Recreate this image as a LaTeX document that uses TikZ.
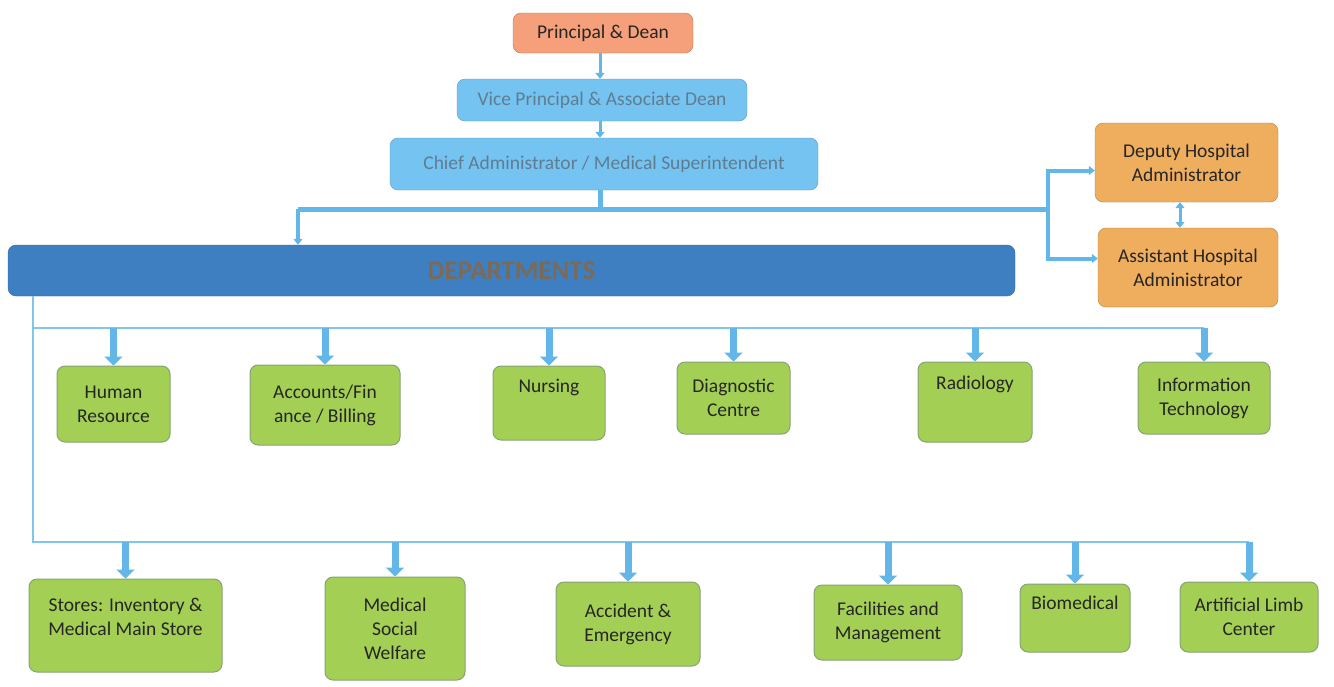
\documentclass[tikz,border=0pt]{standalone}
\usepackage{fontspec}
\setmainfont{Carlito}
\usetikzlibrary{arrows.meta,positioning}
\definecolor{deanorange}{HTML}{F5A07A}
\definecolor{adminorange}{HTML}{EFAD5E}
\definecolor{skyblue}{HTML}{74C3F0}
\definecolor{barblue}{HTML}{3E7FC1}
\definecolor{linkblue}{HTML}{62B6E8}
\definecolor{leafgreen}{HTML}{A3CF55}
\definecolor{leafedge}{HTML}{86A277}
\definecolor{greytext}{HTML}{5F7D92}
\definecolor{depttext}{HTML}{7D6A55}
\newcommand{\BigF}{\fontsize{19.5}{24}\selectfont}

\begin{document}
\begin{tikzpicture}[x=1pt, y=-1pt,
  box/.style={rounded corners=8pt, align=center, inner sep=2pt, font=\BigF},
  topbox/.style={box, draw=skyblue!80!black, fill=skyblue, text=greytext},
  adminbox/.style={box, draw=adminorange!75!black, fill=adminorange, text=black!85},
  leaf/.style={box, draw=leafedge, line width=1pt, fill=leafgreen, text=black!85},
  lifttext/.style={text depth=#1},
  link/.style={draw=linkblue, line width=3pt, -{Triangle[width=9pt,length=6pt]}},
  fork/.style={draw=linkblue, line width=5pt},
  thinlink/.style={draw=linkblue!80, line width=1.5pt},
  drop/.style={draw=linkblue, line width=7pt, -{Triangle[width=18pt,length=9pt]}}]

  \useasboundingbox[fill=white] (0,0) rectangle (1334,686);

  %% top of the tree
  \node[box, draw=deanorange!75!black, fill=deanorange, text=black!85,
    minimum width=180pt, minimum height=40pt] (dean) at (603,33) {Principal \& Dean};
  \node[topbox, minimum width=290pt, minimum height=42pt] (vice) at (602,100)
    {Vice Principal \& Associate Dean};
  \node[topbox, minimum width=428pt, minimum height=52pt] (chief) at (604,164)
    {Chief Administrator / Medical Superintendent};
  \node[box, draw=barblue!85!black, fill=barblue, text=depttext,
    font=\fontsize{27}{30}\selectfont\bfseries,
    minimum width=1007pt, minimum height=51pt] (dept) at (511.5,270.5) {DEPARTMENTS};

  \node[adminbox, minimum width=183pt, minimum height=79pt] (deputy) at (1186.5,162.5)
    {Deputy Hospital\\Administrator};
  \node[adminbox, minimum width=180pt, minimum height=79pt] (assistant) at (1188,267.5)
    {Assistant Hospital\\Administrator};

  %% first row of departments
  \node[leaf, minimum width=113pt, minimum height=76pt] (hr) at (113.5,404) {Human\\Resource};
  \node[leaf, minimum width=150pt, minimum height=80pt] (acc) at (325,405) {Accounts/Fin\\ance / Billing};
  \node[leaf, lifttext=34pt, minimum width=112pt, minimum height=74pt] (nur) at (549,403) {Nursing};
  \node[leaf, minimum width=113pt, minimum height=72pt] (dia) at (733.5,398) {Diagnostic\\Centre};
  \node[leaf, lifttext=38pt, minimum width=114pt, minimum height=80pt] (rad) at (975,402) {Radiology};
  \node[leaf, minimum width=132pt, minimum height=72pt] (it) at (1204,398) {Information\\Technology};

  %% second row of departments
  \node[leaf, minimum width=193pt, minimum height=93pt] (sto) at (125.5,625.5)
    {Stores: Inventory \&\\Medical Main Store\\[-6pt]\mbox{}};
  \node[leaf, minimum width=140pt, minimum height=103pt] (msw) at (395,628.5) {Medical\\Social\\Welfare};
  \node[leaf, minimum width=144pt, minimum height=84pt] (aae) at (628,624) {Accident \&\\Emergency};
  \node[leaf, minimum width=148pt, minimum height=75pt] (fac) at (888,622.5) {Facilities and\\Management};
  \node[leaf, lifttext=30pt, minimum width=110pt, minimum height=68pt] (bio) at (1075,618) {Biomedical};
  \node[leaf, minimum width=138pt, minimum height=70pt] (art) at (1249,617) {Artificial Limb\\Center};

  \coordinate (split) at (600,209);
  \coordinate (splitL) at (298,209);
  \coordinate (splitR) at (1048,209);
  \coordinate (trunk) at (33,296);
  \coordinate (rowA) at (33,328);
  \coordinate (rowB) at (33,542);

  \draw[link] (dean.south -| split) -- (split |- vice.north); %% dean->vice
  \draw[link] (vice.south -| split) -- (split |- chief.north); %% vice->chief
  \draw[fork] (split |- chief.south) -- (split);
  \draw[fork] (splitL) -- (splitR);
  \draw[link, line width=4pt] (splitL) -- (splitL |- dept.north); %% ->departments
  \draw[link, line width=4pt] (splitR) |- ([yshift=-8pt]deputy.west);
  \draw[link, line width=4pt] (splitR) |- ([yshift=9pt]assistant.west);
  \draw[link, {Triangle[width=9pt,length=6pt]}-{Triangle[width=9pt,length=6pt]}]
    (deputy.south -| 1180,0) -- (assistant.north -| 1180,0);

  \draw[thinlink] (trunk) -- (rowB) -- (rowB -| art.north);
  \draw[thinlink] (rowA) -- (rowA -| it.north);
  \foreach \dep in {hr,acc,nur,dia,rad,it}
    \draw[drop] (rowA -| \dep.north) -- (\dep.north);
  \foreach \dep in {sto,msw,aae,fac,bio,art}
    \draw[drop] (rowB -| \dep.north) -- (\dep.north);
\end{tikzpicture}
\end{document}
